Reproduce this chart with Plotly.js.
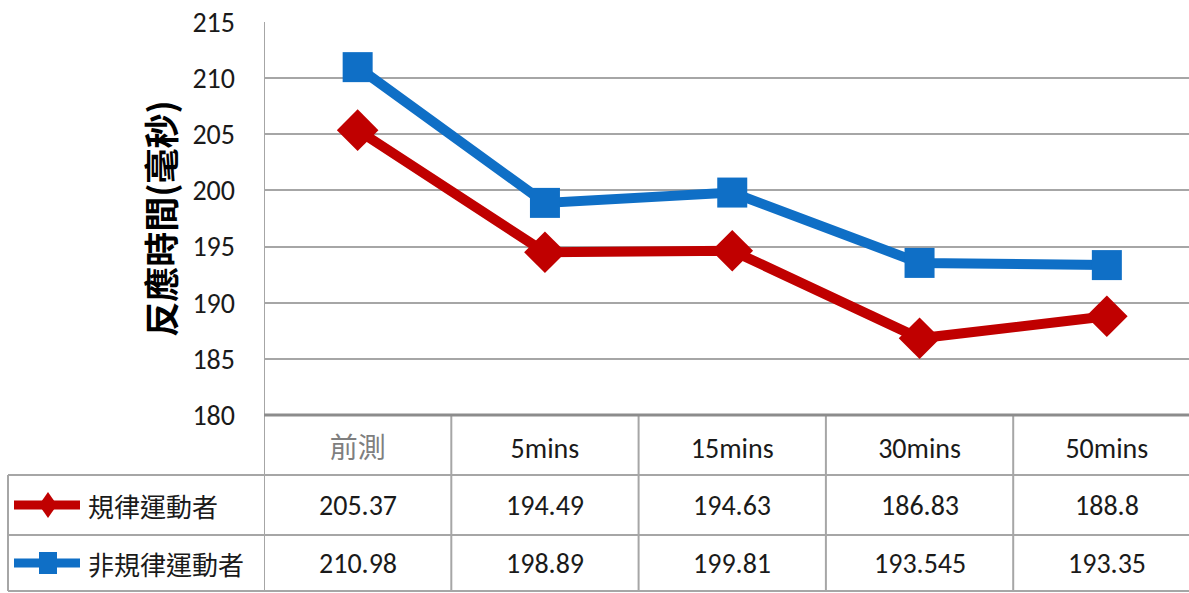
<!DOCTYPE html>
<html>
<head>
<meta charset="utf-8">
<script src="https://cdn.plot.ly/plotly-3.0.1.min.js"></script>
<style>html,body{margin:0;padding:0;background:#fff}#chart{width:1189px;height:593px}</style>
</head>
<body>
<div id="chart"></div>
<script>
const categories = ["前測", "5mins", "15mins", "30mins", "50mins"];
const seriesNames = ["規律運動者", "非規律運動者"];
const regular = [205.37, 194.49, 194.63, 186.83, 188.8];
const irregular = [210.98, 198.89, 199.81, 193.545, 193.35];
const tableText = [
  ["205.37", "194.49", "194.63", "186.83", "188.8"],
  ["210.98", "198.89", "199.81", "193.545", "193.35"]
];
const yTicks = [180, 185, 190, 195, 200, 205, 210, 215];
const yTitle = "反應時間(毫秒)";

const numFont = "Carlito, 'Liberation Sans Narrow', 'DejaVu Sans Condensed', 'Noto Sans CJK TC', sans-serif";
const cjkFont = "'Noto Sans CJK TC', sans-serif";
const red = "#c00000", blue = "#0f6fc6";
const W = 1189, H = 593, L = 264, T = 22, B = 178;
const plotW = W - L, plotH = H - T - B;
const colW = 187.3;
const px2x = p => (p - L) / plotW;          // pixel x -> paper x
const py2y = p => (H - B - p) / plotH;      // pixel y -> paper y

const xIdx = categories.map((c, i) => i);
const traces = [
  {x: xIdx, y: regular, name: seriesNames[0], type: "scatter", mode: "lines+markers",
   line: {color: red, width: 10}, marker: {symbol: "diamond", size: 32, color: red}},
  {x: xIdx, y: irregular, name: seriesNames[1], type: "scatter", mode: "lines+markers",
   line: {color: blue, width: 10}, marker: {symbol: "square", size: 30, color: blue}}
];

const shapes = [];
const annotations = [];
const gridC = "#a6a6a6";
const rowLines = [475, 535, 591];
const rowCenters = [505, 563];
for (let k = 0; k <= 5; k++) {
  shapes.push({type: "line", xref: "x", yref: "paper", x0: k - 0.5, x1: k - 0.5,
    y0: k === 0 ? 1 : 0, y1: py2y(591), line: {color: gridC, width: 2}});
}
shapes.push({type: "line", xref: "paper", yref: "paper", x0: px2x(8), x1: px2x(8),
  y0: py2y(475), y1: py2y(591), line: {color: gridC, width: 2}});
rowLines.forEach(p => shapes.push({type: "line", xref: "paper", yref: "paper",
  x0: px2x(8), x1: 1, y0: py2y(p), y1: py2y(p), line: {color: gridC, width: 2}}));
shapes.push({type: "line", xref: "paper", yref: "paper", x0: 0, x1: 1, y0: 0, y1: 0,
  line: {color: "#8c8c8c", width: 3}});

const keyColors = [red, blue];
const keyPaths = ["M0,-13 L9,0 L0,13 L-9,0 Z", "M-9,-11 L9,-11 L9,11 L-9,11 Z"];
rowCenters.forEach((p, r) => {
  shapes.push({type: "line", xref: "paper", yref: "paper", x0: px2x(14), x1: px2x(80),
    y0: py2y(p), y1: py2y(p), line: {color: keyColors[r], width: 9}});
  shapes.push({type: "path", xref: "paper", yref: "paper", xsizemode: "pixel", ysizemode: "pixel",
    xanchor: px2x(48), yanchor: py2y(p), path: keyPaths[r],
    fillcolor: keyColors[r], line: {color: keyColors[r], width: 0}});
  annotations.push({xref: "paper", yref: "paper", x: px2x(86), y: py2y(p), xanchor: "left",
    yanchor: "middle", showarrow: false, text: seriesNames[r],
    font: {family: cjkFont, size: 26, color: "#1a1a1a"}});
  tableText[r].forEach((t, i) => annotations.push({xref: "x", yref: "paper", x: i, y: py2y(p),
    xanchor: "center", yanchor: "middle", showarrow: false, text: t,
    font: {family: numFont, size: 28, color: "#1a1a1a"}}));
});

const tickText = categories.map((c, i) => i === 0 ? `<span style="color:#7f7f7f;font-family:'Noto Sans CJK TC'">${c}</span>` : c);

const layout = {
  width: W, height: H,
  margin: {l: L, r: 0, t: T, b: B},
  paper_bgcolor: "#fff", plot_bgcolor: "#fff",
  showlegend: false,
  xaxis: {range: [-0.5, -0.5 + plotW / colW], tickvals: xIdx, ticktext: tickText,
    showgrid: false, zeroline: false, showline: false, ticks: "", ticklabelstandoff: 14,
    tickfont: {family: numFont, size: 28, color: "#1a1a1a"}, fixedrange: true},
  yaxis: {range: [180, 215], tickvals: yTicks, showgrid: true, gridcolor: gridC, gridwidth: 2,
    zeroline: false, showline: false, ticks: "", ticklabelstandoff: 28,
    tickfont: {family: numFont, size: 28, color: "#1a1a1a"},
    title: {text: "<b>" + yTitle + "</b>", standoff: 6, font: {family: cjkFont, size: 35, color: "#000"}}},
  shapes: shapes,
  annotations: annotations
};
Plotly.newPlot("chart", traces, layout, {displayModeBar: false, staticPlot: true});
</script>
</body>
</html>
